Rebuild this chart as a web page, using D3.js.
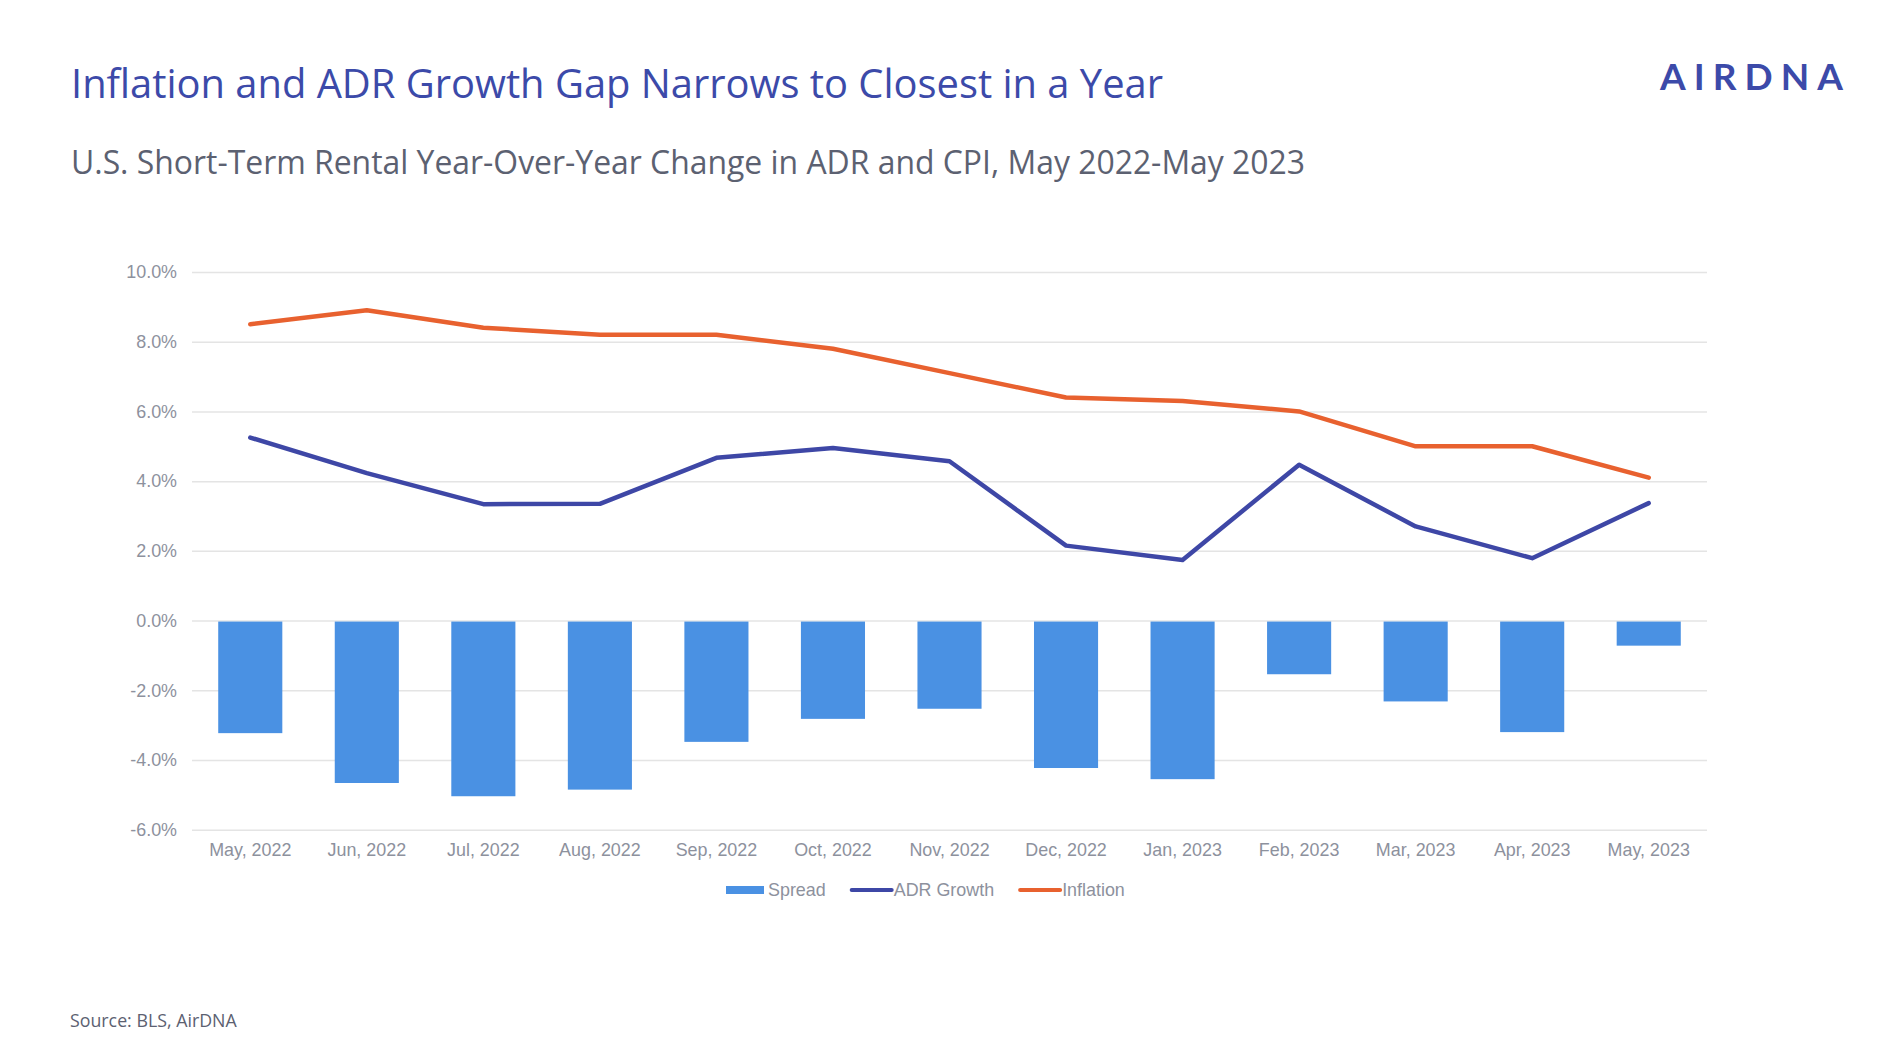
<!DOCTYPE html>
<html>
<head>
<meta charset="utf-8">
<script src="https://cdn.jsdelivr.net/npm/d3@7"></script>
<style>
  html, body { margin: 0; padding: 0; background: #ffffff; }
  svg { display: block; }
</style>
</head>
<body>
<svg id="chart" width="1898" height="1064"></svg>
<script>
// ---- data ----
const categories = ["May, 2022", "Jun, 2022", "Jul, 2022", "Aug, 2022", "Sep, 2022", "Oct, 2022",
  "Nov, 2022", "Dec, 2022", "Jan, 2023", "Feb, 2023", "Mar, 2023", "Apr, 2023", "May, 2023"];
const spread = [-3.23, -4.66, -5.04, -4.85, -3.48, -2.82, -2.53, -4.23, -4.55, -1.54, -2.32, -3.20, -0.72];
const adrGrowth = [5.25, 4.23, 3.34, 3.35, 4.67, 4.95, 4.57, 2.15, 1.74, 4.47, 2.70, 1.79, 3.37];
const inflation = [8.5, 8.9, 8.4, 8.2, 8.2, 7.8, 7.1, 6.4, 6.3, 6.0, 5.0, 5.0, 4.1];
const yTicks = [-6, -4, -2, 0, 2, 4, 6, 8, 10];
const yTickLabels = ["-6.0%", "-4.0%", "-2.0%", "0.0%", "2.0%", "4.0%", "6.0%", "8.0%", "10.0%"];
const legendItems = ["Spread", "ADR Growth", "Inflation"];

const titleText = "Inflation and ADR Growth Gap Narrows to Closest in a Year";
const subtitleText = "U.S. Short-Term Rental Year-Over-Year Change in ADR and CPI, May 2022-May 2023";
const sourceText = "Source: BLS, AirDNA";

// ---- styles ----
const C = {
  title: "#3c4aa9",
  subtitle: "#5c6171",
  bar: "#4a91e3",
  adr: "#3e47a6",
  infl: "#e8612f",
  grid: "#e4e4e4",
  label: "#8d919d"
};

const svg = d3.select("#chart");

// ---- header ----
svg.append("text")
  .attr("x", 71).attr("y", 98)
  .attr("font-family", "'Open Sans', sans-serif")
  .attr("font-size", 40)
  .attr("fill", C.title)
  .attr("textLength", 1092).attr("lengthAdjust", "spacingAndGlyphs")
  .text(titleText);

svg.append("text")
  .attr("x", 71).attr("y", 174)
  .attr("font-family", "'Open Sans', sans-serif")
  .attr("font-size", 32)
  .attr("fill", C.subtitle)
  .attr("textLength", 1234).attr("lengthAdjust", "spacingAndGlyphs")
  .text(subtitleText);

// logo
svg.append("text")
  .attr("x", 1660).attr("y", 90)
  .attr("font-family", "Lato, 'Open Sans', sans-serif")
  .attr("font-weight", 700)
  .attr("font-size", 37)
  .attr("fill", C.title)
  .attr("textLength", 183).attr("lengthAdjust", "spacing")
  .text("AIRDNA");

svg.append("text")
  .attr("x", 70).attr("y", 1027)
  .attr("font-family", "'Open Sans', sans-serif")
  .attr("font-size", 17.8)
  .attr("fill", C.subtitle)
  .text(sourceText);

// ---- scales ----
const plot = { left: 192, right: 1707, top: 272, bottom: 829.7 };
const x = d3.scaleBand()
  .domain(categories)
  .range([plot.left, plot.right])
  .paddingInner(0.45)
  .paddingOuter(0.225);
const y = d3.scaleLinear().domain([-6, 10]).range([plot.bottom, plot.top]);
const xc = d => x(d) + x.bandwidth() / 2;

const labelFont = "'Liberation Sans', Arial, Helvetica, sans-serif";
const labelSize = 17.9;

// gridlines
svg.append("g")
  .attr("transform", `translate(${plot.left},0)`)
  .call(d3.axisLeft(y).tickValues(yTicks).tickSize(-(plot.right - plot.left)).tickFormat(""))
  .call(g => g.select(".domain").remove())
  .call(g => g.selectAll(".tick line").attr("stroke", C.grid).attr("stroke-width", 1.5));

// y labels
svg.append("g")
  .attr("transform", `translate(${plot.left},0)`)
  .call(d3.axisLeft(y).tickValues(yTicks).tickSize(0).tickPadding(15)
    .tickFormat((d, i) => yTickLabels[i]))
  .call(g => g.select(".domain").remove())
  .call(g => g.selectAll("text")
    .attr("font-family", labelFont).attr("font-size", labelSize).attr("fill", C.label));

// x labels
svg.append("g")
  .attr("transform", `translate(0,${plot.bottom})`)
  .call(d3.axisBottom(x).tickSize(0).tickPadding(14))
  .call(g => g.select(".domain").remove())
  .call(g => g.selectAll("text")
    .attr("font-family", labelFont).attr("font-size", labelSize).attr("fill", C.label));

// bars
svg.append("g").selectAll("rect")
  .data(categories.map((c, i) => ({ c, v: spread[i] })))
  .join("rect")
  .attr("x", d => x(d.c))
  .attr("width", x.bandwidth())
  .attr("y", d => y(Math.max(0, d.v)) + 1)
  .attr("height", d => Math.abs(y(d.v) - y(0)) - 1)
  .attr("fill", C.bar);

// lines
const line = d3.line().x(d => xc(d.c)).y(d => y(d.v));
svg.append("path")
  .datum(categories.map((c, i) => ({ c, v: inflation[i] })))
  .attr("d", line)
  .attr("fill", "none").attr("stroke", C.infl)
  .attr("stroke-width", 4.5).attr("stroke-linecap", "round").attr("stroke-linejoin", "round");
svg.append("path")
  .datum(categories.map((c, i) => ({ c, v: adrGrowth[i] })))
  .attr("d", line)
  .attr("fill", "none").attr("stroke", C.adr)
  .attr("stroke-width", 4.5).attr("stroke-linecap", "round").attr("stroke-linejoin", "round");

// legend
const legend = svg.append("g").attr("transform", "translate(726,890)");
const colors = [C.bar, C.adr, C.infl];
let lx = 0;
legendItems.forEach((name, i) => {
  const g = legend.append("g").attr("transform", `translate(${lx},0)`);
  if (i === 0) {
    g.append("rect").attr("x", 0).attr("y", -4).attr("width", 38).attr("height", 8).attr("fill", colors[i]);
  } else {
    g.append("line").attr("x1", 2).attr("x2", 42).attr("y1", 0).attr("y2", 0)
      .attr("stroke", colors[i]).attr("stroke-width", 4).attr("stroke-linecap", "round");
  }
  const t = g.append("text")
    .attr("x", i === 0 ? 42 : 44).attr("y", 0).attr("dy", "0.35em")
    .attr("font-family", labelFont).attr("font-size", labelSize).attr("fill", C.label)
    .text(name);
  lx += (i === 0 ? 42 : 44) + t.node().getComputedTextLength() + 24;
});
</script>
</body>
</html>
